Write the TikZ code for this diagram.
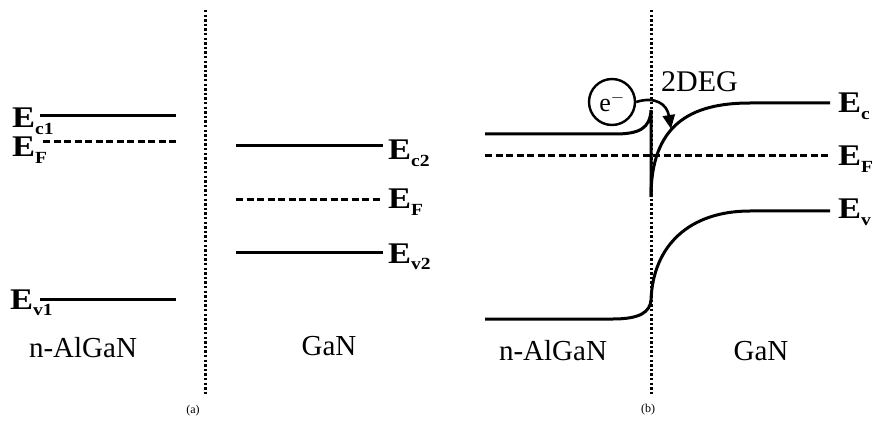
\documentclass[tikz,border=0pt]{standalone}
\usepackage{fontspec}
\setmainfont{Liberation Serif}
\usetikzlibrary{arrows.meta}
\newcommand\Elab[1]{\scalebox{1.15}[1]{{\fontsize{30}{30}\selectfont\bfseries E}\raisebox{-6.5pt}{\fontsize{17}{17}\selectfont\bfseries #1}}}
\begin{document}
\begin{tikzpicture}[x=1pt,y=-1pt,
  band/.style={line width=3pt},
  fermi/.style={line width=3pt,dash pattern=on 7pt off 3.5pt},
  interface/.style={line width=3pt,dash pattern=on 2.4pt off 2.2pt},
  elab/.style={anchor=base west,inner sep=0pt},
  region/.style={anchor=base,inner sep=0pt,font=\fontsize{29}{29}\selectfont},
  caption/.style={anchor=base,inner sep=0pt,font=\fontsize{12}{12}\selectfont}]
\fill[white] (0,0) rectangle (873,422);
\useasboundingbox (0,0) rectangle (873,422);
% ---------- (a) ----------
\coordinate (ia1) at (205,10); \coordinate (ia2) at (205,395);
\draw[interface] (ia1) -- (ia2);
\coordinate (c1a) at (40,116); \coordinate (c1b) at (176,116);
\coordinate (f1a) at (43,142); \coordinate (f1b) at (176,142);
\coordinate (v1a) at (40,299); \coordinate (v1b) at (176,299);
\draw[band] (c1a) -- (c1b);
\draw[fermi] (f1a) -- (f1b);
\draw[band] (v1a) -- (v1b);
\node[elab] (lc1) at (12,128) {\Elab{c1}};
\node[elab] (lf1) at (12,157) {\Elab{F}};
\node[elab] (lv1) at (10,309) {\Elab{v1}};
\coordinate (c2a) at (236,146); \coordinate (c2b) at (383,146);
\coordinate (f2a) at (236,200); \coordinate (f2b) at (383,200);
\coordinate (v2a) at (236,253); \coordinate (v2b) at (383,253);
\draw[band] (c2a) -- (c2b);
\draw[fermi] (f2a) -- (f2b);
\draw[band] (v2a) -- (v2b);
\node[elab] (lc2) at (388,160) {\Elab{c2}};
\node[elab] (lf2) at (388,209) {\Elab{F}};
\node[elab] (lv2) at (388,263) {\Elab{v2}};
\node[region] (ta1) at (83,357) {n-AlGaN};
\node[region] (ta2) at (329,355) {GaN};
\node[caption] (capa) at (193,413) {(a)};
% ---------- (b) ----------
\coordinate (ib1) at (651,10); \coordinate (ib2) at (651,395);
\draw[interface] (ib1) -- (ib2);
\draw[band] (485,134) -- (615,134) .. controls (640,134) and (650,128) .. (651,110) -- (651,197);
\draw[band] (651,197) .. controls (651,125) and (690,103) .. (750,103) -- (830,103);
\draw[fermi] (485,156) -- (830,156);
\draw[band] (485,319) -- (613,319) .. controls (640,319) and (650,312) .. (651,300)
  .. controls (653,245) and (690,211) .. (750,211) -- (830,211);
\node[elab] (lc) at (838,113) {\Elab{c}};
\node[elab] (lf) at (838,166) {\Elab{F}};
\node[elab] (lv) at (838,219) {\Elab{v}};
\node[draw,circle,line width=2.4pt,minimum size=46pt,inner sep=0pt,font=\fontsize{26}{26}\selectfont] (el) at (612,102) {e$^{-}$};
\coordinate (tip) at (671,129);
\draw[line width=2.6pt,-{Triangle[length=14pt,width=12pt]}] (el.east) .. controls (655,96) and (667,104) .. (tip);
\node[anchor=base west,inner sep=0pt,font=\fontsize{30}{30}\selectfont] (deg) at (661,92) {2DEG};
\node[region] (tb1) at (553,360) {n-AlGaN};
\node[region] (tb2) at (761,360) {GaN};
\node[caption] (capb) at (648,412) {(b)};
\end{tikzpicture}
\end{document}
